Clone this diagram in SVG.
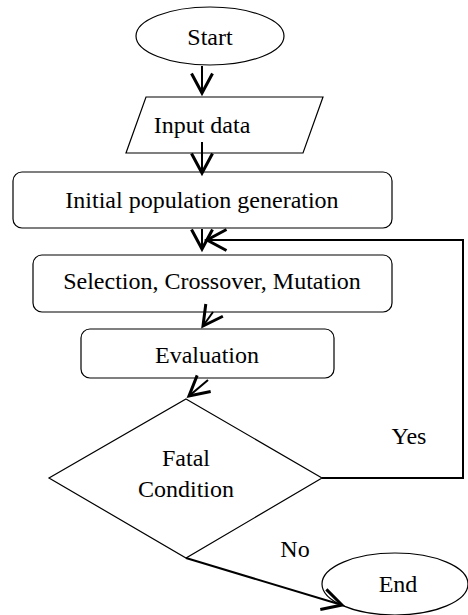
<svg xmlns="http://www.w3.org/2000/svg" width="468" height="615" viewBox="0 0 468 615">
<style>
.shape{fill:#fff;stroke:#000;stroke-width:1.2}
.t{font-family:"Liberation Serif","Times New Roman",serif;font-size:24px;fill:#000;text-anchor:middle}
.c{fill:none;stroke:#000;stroke-width:2}
</style>
<defs>
<marker id="ah" markerUnits="userSpaceOnUse" markerWidth="30" markerHeight="30" refX="0" refY="0" viewBox="-16 -10 20 20" orient="auto" overflow="visible">
<path d="M -13 -7 L 0 0 L -13 7" fill="none" stroke="#000" stroke-width="2"/>
</marker>
</defs>
<rect width="468" height="615" fill="#fff"/>
<g id="start"><ellipse class="shape" cx="210" cy="36" rx="74" ry="29"/><text class="t" x="210" y="45">Start</text></g>
<g id="input"><polygon class="shape" points="146,97 323,97 303,153 126,153"/><text class="t" x="202" y="133">Input data</text></g>
<g id="init"><rect class="shape" x="13" y="172" width="379" height="56" rx="9"/><text class="t" x="202" y="208">Initial population generation</text></g>
<g id="sel"><rect class="shape" x="33" y="255" width="359" height="57" rx="9"/><text class="t" x="212" y="289">Selection, Crossover, Mutation</text></g>
<g id="eval"><rect class="shape" x="81" y="329" width="253" height="49" rx="9"/><text class="t" x="207" y="363">Evaluation</text></g>
<g id="cond"><polygon class="shape" points="186,399 322,478 186,558 49,478"/><text class="t" x="186" y="466">Fatal</text><text class="t" x="186" y="497">Condition</text></g>
<g id="end"><ellipse class="shape" cx="395" cy="584" rx="73" ry="31"/><text class="t" x="398" y="592">End</text></g>
<g id="connectors">
<line class="c" x1="202" y1="66" x2="202" y2="93" marker-end="url(#ah)"/>
<line class="c" x1="202" y1="142" x2="202" y2="173" marker-end="url(#ah)"/>
<line class="c" x1="202" y1="229" x2="202" y2="249" marker-end="url(#ah)"/>
<polyline class="c" points="322,478 463,478 463,240 207,240" stroke-width="2.5" marker-end="url(#ah)"/>
<line class="c" x1="213" y1="312" x2="203" y2="326" marker-end="url(#ah)"/>
<line class="c" x1="208" y1="380" x2="189" y2="396" marker-end="url(#ah)"/>
<line class="c" x1="186" y1="558" x2="342" y2="605" stroke-width="2.5" marker-end="url(#ah)"/>
<text class="t" x="409" y="444">Yes</text>
<text class="t" x="295" y="557">No</text>
</g>
</svg>
